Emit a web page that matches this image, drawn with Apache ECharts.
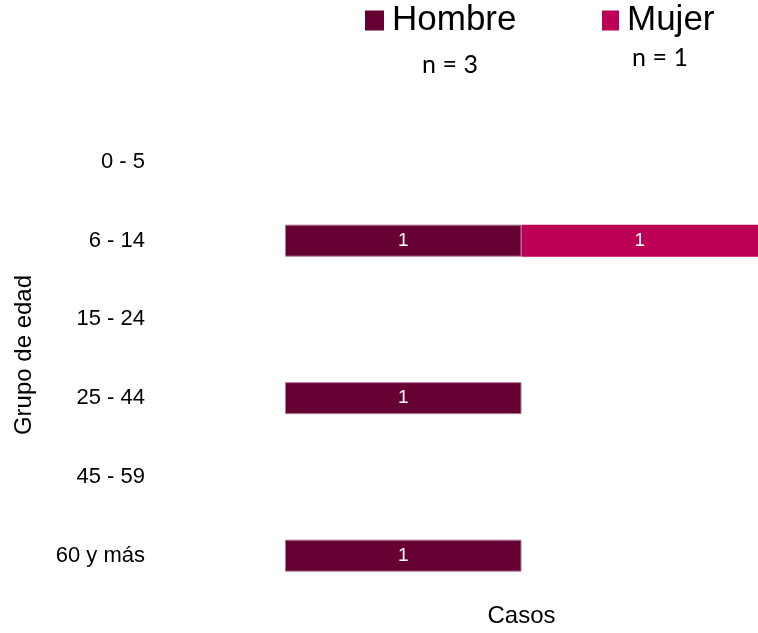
<!DOCTYPE html>
<html>
<head>
<meta charset="utf-8">
<script src="https://cdn.jsdelivr.net/npm/echarts@6/dist/echarts.min.js"></script>
<style>html,body{margin:0;padding:0;background:#fff}#c{width:758px;height:633px}</style>
</head>
<body>
<div id="c"></div>
<script>
const categories = ['0 - 5', '6 - 14', '15 - 24', '25 - 44', '45 - 59', '60 y más'];
const hombre = [0, 1, 0, 1, 0, 1];
const mujer = [0, 1, 0, 0, 0, 0];
const seriesNames = ['Hombre', 'Mujer'];
const nHombre = 'n = 3';
const nMujer = 'n = 1';

const font = '"Liberation Sans", Arial, sans-serif';
const chart = echarts.init(document.getElementById('c'));
const lbl = {
  show: true, position: 'inside', color: '#fff', fontSize: 19, fontFamily: font,
  formatter: p => (p.value ? String(Math.abs(p.value)) : '')
};
const legendText = { fontSize: 35, fontFamily: font, color: '#000', padding: [0, 0, 0, 3] };
chart.setOption({
  animation: false,
  grid: { left: 285, right: 0, top: 122.5, bottom: 36.5, containLabel: false },
  legend: [
    { data: [seriesNames[0]], left: 365, top: 3, padding: 0, icon: 'rect', itemWidth: 19, itemHeight: 20, itemGap: 0,
      itemStyle: { borderWidth: 0 }, textStyle: legendText },
    { data: [seriesNames[1]], left: 602, top: 3, padding: 0, icon: 'rect', itemWidth: 17, itemHeight: 20, itemGap: 0,
      itemStyle: { borderWidth: 0 }, textStyle: legendText }
  ],
  xAxis: {
    type: 'value', min: -1, max: 1,
    name: 'Casos', nameLocation: 'middle', nameGap: 9,
    nameTextStyle: { fontSize: 24, fontFamily: font, color: '#000' },
    axisLine: { show: false }, axisTick: { show: false }, axisLabel: { show: false }, splitLine: { show: false }
  },
  yAxis: {
    type: 'category', data: categories, inverse: true,
    axisLine: { show: false }, axisTick: { show: false }, splitLine: { show: false },
    axisLabel: { margin: 140, fontSize: 22, fontFamily: font, color: '#000' }
  },
  graphic: [
    { type: 'text', x: 24, y: 355, rotation: Math.PI / 2,
      style: { text: 'Grupo de edad', fontSize: 24, fontFamily: font, fill: '#000', align: 'center', verticalAlign: 'middle' } },
    { type: 'text', x: 450, y: 65,
      style: { text: nHombre, fontSize: 25, fontFamily: 'Lato, sans-serif', fill: '#000', align: 'center', verticalAlign: 'middle' } },
    { type: 'text', x: 660, y: 58,
      style: { text: nMujer, fontSize: 25, fontFamily: 'Lato, sans-serif', fill: '#000', align: 'center', verticalAlign: 'middle' } }
  ],
  series: [
    { name: seriesNames[0], type: 'bar', stack: 'a', barWidth: 32, data: hombre.map(v => (v ? -v : null)),
      itemStyle: { color: '#660033', borderColor: '#b07a95', borderWidth: 1 }, label: lbl },
    { name: seriesNames[1], type: 'bar', stack: 'a', barWidth: 32, data: mujer.map(v => (v ? v : null)),
      itemStyle: { color: '#BB0056' }, label: lbl }
  ]
});
</script>
</body>
</html>
